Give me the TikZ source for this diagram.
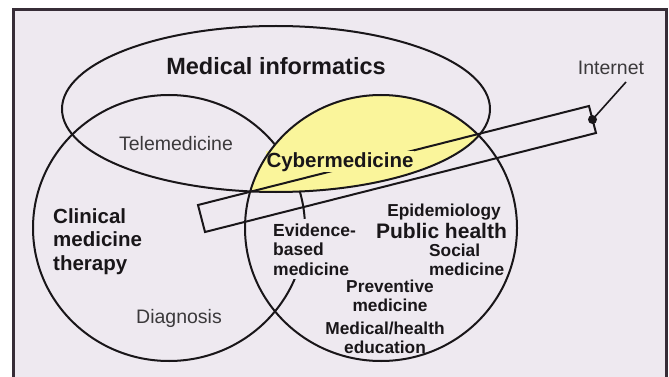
\documentclass[tikz,border=0pt]{standalone}
\usepackage{fontspec}
\setmainfont{Liberation Sans}
\definecolor{bg}{RGB}{238,233,240}
\definecolor{lens}{RGB}{250,245,155}
\definecolor{rim}{RGB}{55,45,55}
\definecolor{ink}{RGB}{25,22,25}
\begin{document}
\begin{tikzpicture}[x=1pt,y=-1pt,
    setline/.style={draw=ink,line width=2pt},
    lbig/.style={font=\bfseries\fontsize{23.5}{26}\selectfont,text=ink,inner sep=0pt},
    lhead/.style={font=\bfseries\fontsize{20.5}{23.5}\selectfont,text=ink,align=left,inner sep=0pt},
    lmid/.style={font=\bfseries\fontsize{20.5}{23}\selectfont,text=ink,inner sep=0pt},
    lsmall/.style={font=\bfseries\fontsize{17.3}{18.3}\selectfont,text=ink,inner sep=0pt},
    lplain/.style={font=\fontsize{19.5}{22}\selectfont,text=ink!85,inner sep=0pt}]
  \useasboundingbox (0,0) rectangle (669,377);
  \draw[rim,line width=3pt,fill=bg] (13.5,9.5) rectangle (666.5,395);
  \coordinate (mi) at (276,109);
  \coordinate (cm) at (169,228);
  \coordinate (ph) at (381,228);
  \draw[setline] (cm) ellipse [x radius=136pt,y radius=133pt];
  \begin{scope}
    \clip (ph) ellipse [x radius=136pt,y radius=133pt];
    \fill[lens] (mi) ellipse [x radius=214pt,y radius=83pt];
  \end{scope}
  \coordinate (b1) at (198,205);
  \coordinate (b2) at (205,232);
  \coordinate (b3) at (596,133);
  \coordinate (b4) at (589,106);
  \draw[setline] (b1) -- (b2) -- (b3) -- (b4) -- cycle;
  \node[lmid,fill=lens,inner sep=1pt,anchor=base] (cyb) at (340,167) {Cybermedicine};
  \draw[setline] (mi) ellipse [x radius=214pt,y radius=83pt];
  \draw[setline] (ph) ellipse [x radius=136pt,y radius=133pt];
  \node[lsmall,font=\bfseries\fontsize{17.5}{19.5}\selectfont,align=left,fill=bg,inner sep=4pt,anchor=base west] (ebm) at (269,275) {Evidence-\\based\\medicine};
  \coordinate (dot) at (592.5,119.5);
  \coordinate (tip) at (626,82);
  \fill[ink] (dot) circle (4.5pt);
  \draw[ink,line width=1.6pt] (dot) -- (tip);
  \node[lplain,anchor=base] (net) at (611,75) {Internet};
  \node[lbig,anchor=base] (info) at (276,75) {Medical informatics};
  \node[lplain,anchor=base] (tele) at (176,150) {Telemedicine};
  \node[lhead,anchor=base west] (clin) at (53,270) {Clinical\\medicine\\therapy};
  \node[lplain,anchor=base] (diag) at (179,323) {Diagnosis};
  \node[lsmall,anchor=base] (epi) at (444,216) {Epidemiology};
  \node[lmid,font=\bfseries\fontsize{21}{23}\selectfont,anchor=base] (pub) at (441.5,238) {Public health};
  \node[lsmall,align=left,anchor=base west] (soc) at (429,275) {Social\\medicine};
  \node[lsmall,align=center,anchor=base] (prev) at (390,311) {Preventive\\medicine};
  \node[lsmall,align=center,anchor=base] (edu) at (385,353) {Medical/health\\education};
\end{tikzpicture}
\end{document}
